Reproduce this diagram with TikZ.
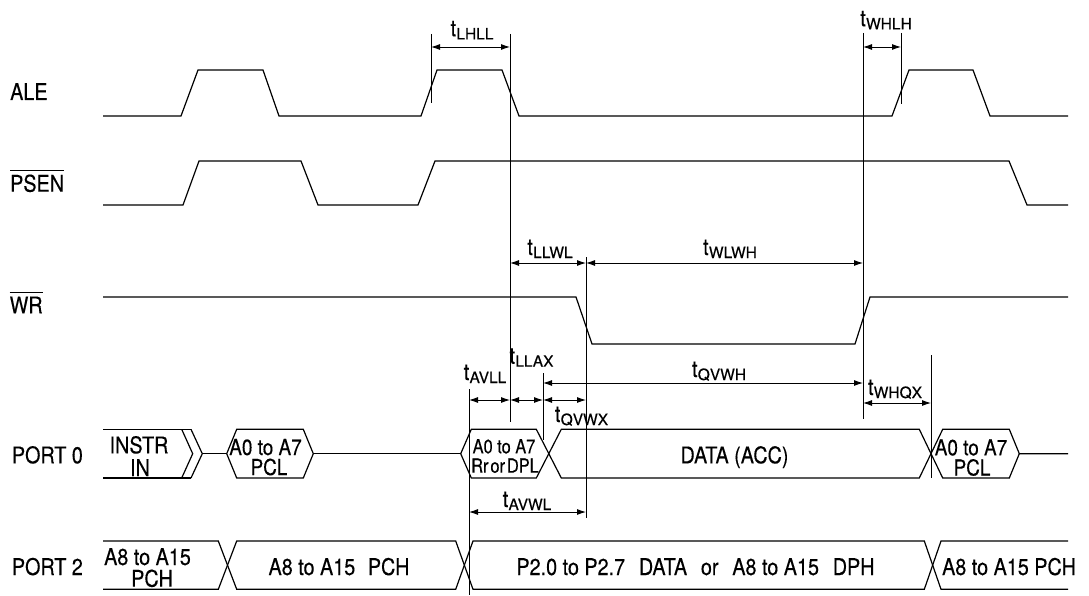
\documentclass[tikz,border=0pt]{standalone}
\usepackage{fontspec}
\setmainfont{TeX Gyre Heros}[FakeStretch=0.86,FakeBold=0.3]
\newfontfamily\subf{TeX Gyre Heros}[FakeBold=0.3]
\newfontfamily\narf{TeX Gyre Heros}[FakeStretch=0.84,FakeBold=0.3]
\usetikzlibrary{arrows.meta}
\newcommand\tlab[1]{t\kern0.3pt\raisebox{-3pt}{\subf\fontsize{15.5}{15.5}\selectfont #1}}
\newcommand\ovl[1]{\setbox0=\hbox{#1}\rlap{\rule[\dimexpr\ht0+4pt\relax]{\wd0}{1pt}}\box0}
\begin{document}
\begin{tikzpicture}[x=1pt,y=-1pt,
  every node/.style={font=\fontsize{23}{24}\selectfont, inner sep=0pt},
  sig/.style={line width=1.2pt, line join=miter},
  vref/.style={line width=0.9pt},
  dim/.style={line width=0.9pt, {Latex[length=9pt,width=6pt]}-{Latex[length=9pt,width=6pt]}},
  lbl/.style={anchor=base west},
  tl/.style={anchor=base},
  hx/.style={anchor=base, font=\fontsize{22}{22}\selectfont},
  hn/.style={anchor=base, font=\narf\fontsize{19.5}{20}\selectfont}]
\useasboundingbox (0,0) rectangle (1089,596);

% ---- signal names
\node[lbl] (ale) at (10,100) {ALE};
\node[lbl] (psen) at (10,191.7) {\ovl{PSEN}};
\node[lbl] (wr) at (9.5,313.3) {\ovl{WR}};
\node[lbl] (p0) at (11.7,463.3) {PORT 0};
\node[lbl] (p2) at (11.7,575) {PORT 2};

% ---- ALE
\draw[sig] (103,116)--(181,116)--(198,70)--(263,70)--(279,116)--(421,116)--(437,70)--(502,70)--(519,116)--(892,116)--(909,70)--(973,70)--(990,116)--(1068,116);
% ---- PSEN
\draw[sig] (103,205)--(183,205)--(199,161)--(301,161)--(318,205)--(418,205)--(435,161)--(1009,161)--(1027,205)--(1068,205);
% ---- WR
\draw[sig] (103,297)--(576,297)--(592,344)--(855,344)--(870,297)--(1068,297);

% ---- PORT 0
\draw[sig] (103,429.3)--(191,429.3);
\draw[sig] (103,478)--(191,478);
\draw[sig] (181.7,429.3)--(192.7,453.7)--(181.7,478);
\draw[sig] (191,429.3)--(202.3,453.7)--(191,478);
\draw[sig] (202.3,453.7)--(226.7,453.7);
\draw[sig] (226.7,453.7)--(236.7,429.3)--(303.3,429.3)--(313.3,453.7)--(303.3,478)--(236.7,478)--cycle;
\draw[sig] (313.3,453.7)--(460.7,453.7);
\draw[sig] (460.7,453.7)--(471.3,429.3)--(536.3,429.3)--(561.3,478)--(919.3,478)--(942.7,429.3)--(1009.3,429.3)--(1019.3,453.7)--(1068,453.7);
\draw[sig] (460.7,453.7)--(471.3,478)--(536.3,478)--(561.3,429.3)--(919.3,429.3)--(942.7,478)--(1009.3,478)--(1019.3,453.7);

% ---- PORT 2
\draw[sig] (103,541)--(218.3,541)--(236.7,589.3)--(455.7,589.3)--(473,541)--(924.3,541)--(941,589.3)--(1068,589.3);
\draw[sig] (103,589.3)--(218.3,589.3)--(236.7,541)--(455.7,541)--(473,589.3)--(924.3,589.3)--(941,541)--(1068,541);

% ---- reference lines
\coordinate (v1t) at (431,34);  \coordinate (v1b) at (431,103);
\coordinate (v2t) at (510,34);  \coordinate (v2b) at (510,422);
\coordinate (v3t) at (863,33);  \coordinate (v3b) at (863,419);
\coordinate (v4t) at (901,33);  \coordinate (v4b) at (901,104);
\coordinate (v5t) at (586,257); \coordinate (v5b) at (586,518);
\coordinate (v6t) at (543,373); \coordinate (v6b) at (543,440);
\coordinate (v7t) at (469,389); \coordinate (v7b) at (469,595);
\coordinate (v8t) at (931,355); \coordinate (v8b) at (931,478);
\foreach \v in {1,...,8} {\draw[vref] (v\v t)--(v\v b);}

% ---- dimension arrows
\coordinate (a1) at (431,47);  \coordinate (a2) at (510,47);
\coordinate (b1) at (863,47);  \coordinate (b2) at (901,47);
\coordinate (c1) at (510,263); \coordinate (c2) at (586,263); \coordinate (c3) at (863,263);
\coordinate (d1) at (543,383); \coordinate (d2) at (863,383);
\coordinate (e1) at (469,400); \coordinate (e2) at (510,400); \coordinate (e3) at (543,400); \coordinate (e4) at (586,400);
\coordinate (f1) at (469,512); \coordinate (f2) at (586,512);
\coordinate (g1) at (863,403); \coordinate (g2) at (931,403);
\draw[dim] (a1)--(a2);
\draw[dim] (b1)--(b2);
\draw[dim] (c1)--(c2);
\draw[dim] (c2)--(c3);
\draw[dim] (d1)--(d2);
\draw[dim] (e1)--(e2);
\draw[dim] (e2)--(e3);
\draw[dim] (e3)--(e4);
\draw[dim] (f1)--(f2);
\draw[dim] (g1)--(g2);

% ---- timing labels
\node[tl] (tlhll) at (472,36.3) {\tlab{LHLL}};
\node[tl] (twhlh) at (886,26.3) {\tlab{WHLH}};
\node[tl] (tllwl) at (550,255) {\tlab{LLWL}};
\node[tl] (twlwh) at (730,255) {\tlab{WLWH}};
\node[tl] (tqvwh) at (719,377) {\tlab{QVWH}};
\node[tl] (tavll) at (485,380) {\tlab{AVLL}};
\node[tl] (tllax) at (531.5,363.7) {\tlab{LLAX}};
\node[tl] (tqvwx) at (581.5,422) {\tlab{QVWX}};
\node[tl] (tavwl) at (527,507) {\tlab{AVWL}};
\node[tl] (twhqx) at (895,395) {\tlab{WHQX}};

% ---- bus texts PORT 0
\node[anchor=base] (in1) at (139,453.3) {INSTR};
\node[anchor=base] (in2) at (140,476) {IN};
\node[hx] (h1a) at (265.5,455) {A0 to A7};
\node[hx] (h1b) at (269,475) {PCL};
\node[hn] (h2a) at (504,453.3) {A0 to A7};
\node[hn] (h2b) at (505,472.7) {Rr\hspace{0.1em}or\hspace{0.1em}DPL};
\node[anchor=base] (data) at (734.5,463.3) {DATA (ACC)};
\node[hx] (h3a) at (971,455.3) {A0 to A7};
\node[hx] (h3b) at (972,475.5) {PCL};

% ---- bus texts PORT 2
\node[anchor=base] (q1a) at (147.5,565) {A8 to A15};
\node[anchor=base] (q1b) at (152,586.7) {PCH};
\node[anchor=base] (q2) at (339,575) {A8 to A15\hspace{0.55em}PCH};
\node[anchor=base] (q3) at (695.5,575) {P2.0 to P2.7\hspace{0.6em}DATA\hspace{0.6em}or\hspace{0.6em}A8 to A15\hspace{0.6em}DPH};
\node[anchor=base] (q4) at (1009,575) {A8 to A15 PCH};
\end{tikzpicture}
\end{document}
